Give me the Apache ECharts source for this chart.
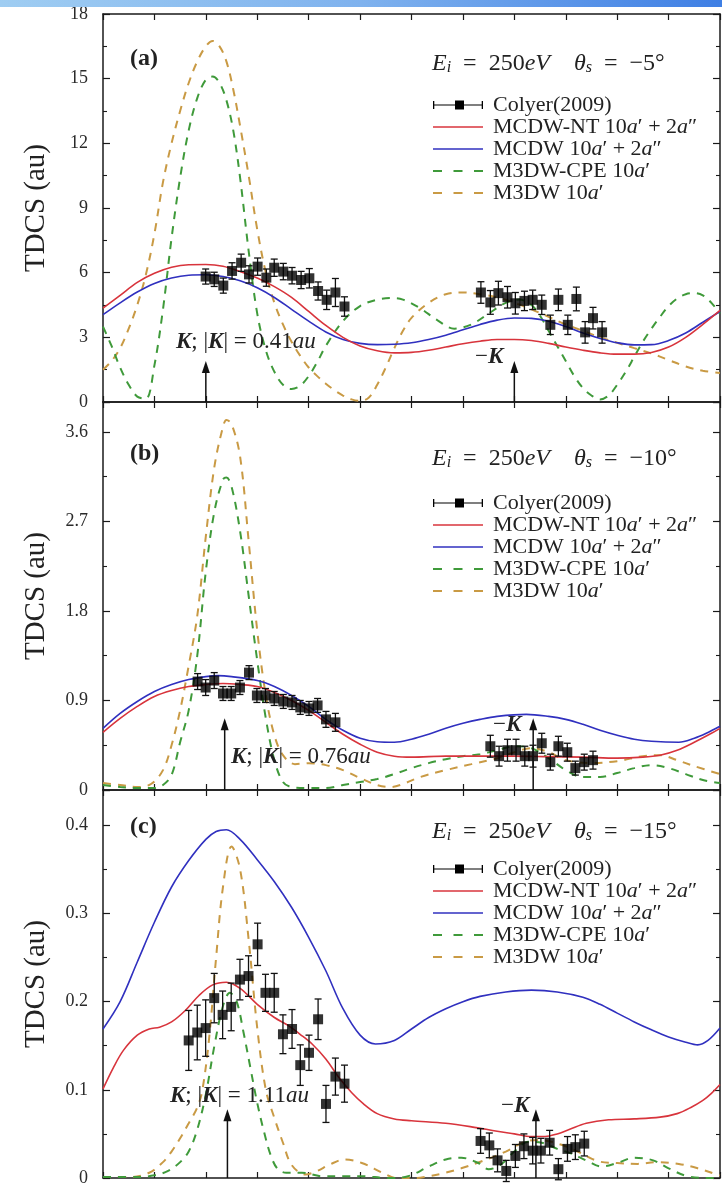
<!DOCTYPE html>
<html>
<head>
<meta charset="utf-8">
<script src="https://cdn.jsdelivr.net/npm/echarts@6/dist/echarts.min.js"></script>
<style>
html,body{margin:0;padding:0;background:#fff;}
#chart{width:722px;height:1187px;}
</style>
</head>
<body>
<div id="chart"></div>
<script>
// Ejected-electron angle (deg) vs TDCS for three scattering angles.
// Theory curves: [angle, TDCS]; measurements: [angle, TDCS, error].

// ---- panel (a): theta_s = -5 deg ----
const RED_A = [[0,4.35],[10,4.95],[20,5.55],[30,5.97],[40,6.25],[50,6.37],[60,6.38],[70,6.3],[80,6.05],[90,5.75],[100,5.35],[110,4.85],[120,4.2],[130,3.55],[140,3.0],[150,2.6],[160,2.38],[170,2.28],[180,2.3],[190,2.4],[200,2.55],[210,2.7],[220,2.82],[230,2.9],[240,2.9],[250,2.85],[260,2.72],[270,2.55],[280,2.4],[290,2.28],[300,2.22],[310,2.22],[320,2.3],[330,2.55],[340,3.0],[350,3.6],[360,4.25]];
const BLUE_A = [[0,4.05],[10,4.6],[20,5.1],[30,5.5],[40,5.75],[50,5.88],[60,5.9],[70,5.82],[80,5.62],[90,5.3],[100,4.85],[110,4.3],[120,3.75],[130,3.25],[140,2.9],[150,2.72],[160,2.66],[170,2.68],[180,2.75],[190,2.9],[200,3.1],[210,3.35],[220,3.6],[230,3.8],[240,3.9],[250,3.88],[260,3.75],[270,3.5],[280,3.2],[290,2.95],[300,2.75],[310,2.65],[320,2.66],[330,2.85],[340,3.2],[350,3.7],[360,4.2]];
const CPE_A = [[0,3.5],[5,2.6],[10,1.6],[15,0.8],[20,0.25],[25,0.15],[30,1.7],[35,4.3],[40,7.6],[45,10.4],[50,12.6],[55,14.1],[60,14.95],[64,15.1],[68,14.8],[72,14.0],[76,12.6],[80,10.4],[85,7.0],[90,4.1],[95,2.4],[100,1.4],[105,0.8],[110,0.6],[115,0.75],[120,1.2],[125,1.85],[130,2.6],[140,3.75],[150,4.45],[160,4.75],[168,4.82],[175,4.75],[185,4.35],[195,3.8],[205,3.4],[215,3.6],[225,4.1],[235,4.6],[243,4.75],[250,4.5],[255,4.0],[260,3.3],[265,2.6],[270,1.9],[275,1.2],[280,0.65],[285,0.3],[290,0.12],[295,0.3],[300,0.8],[305,1.4],[310,2.1],[315,2.8],[320,3.4],[325,3.95],[330,4.45],[335,4.8],[340,5.0],[345,5.05],[350,4.95],[355,4.6],[360,4.1]];
const M3DW_A = [[0,1.5],[5,1.9],[10,2.5],[15,3.4],[20,4.5],[25,5.9],[30,7.8],[35,10.2],[40,12.0],[45,13.5],[50,14.8],[55,15.8],[60,16.5],[64,16.75],[68,16.5],[72,15.8],[76,14.5],[80,12.8],[85,10.5],[90,8.0],[95,6.0],[100,4.6],[105,3.6],[110,2.8],[115,2.15],[120,1.6],[125,1.2],[130,0.85],[135,0.55],[140,0.3],[145,0.12],[150,0.05],[155,0.2],[160,0.8],[165,1.6],[170,2.5],[175,3.3],[180,3.9],[190,4.6],[200,5.0],[210,5.08],[220,5.0],[230,4.85],[240,4.6],[250,4.3],[260,3.95],[270,3.6],[280,3.3],[290,3.0],[300,2.75],[310,2.5],[320,2.25],[330,1.95],[340,1.65],[350,1.45],[360,1.35]];
const EXP_A = [[59.9,5.82,0.35],[64.9,5.69,0.33],[70.2,5.4,0.35],[75.3,6.08,0.38],[80.6,6.46,0.4],[85.2,5.92,0.4],[90.2,6.28,0.4],[95.3,5.77,0.4],[99.9,6.23,0.4],[105.2,6.05,0.38],[110.3,5.86,0.38],[115.6,5.66,0.4],[120.4,5.74,0.45],[125.5,5.15,0.42],[130.5,4.74,0.45],[135.6,5.08,0.65],[140.9,4.43,0.45],
  [220.5,5.08,0.5],[226,4.62,0.55],[230.7,5.05,0.55],[236,4.86,0.5],[240.6,4.58,0.5],[245.9,4.69,0.45],[250.7,4.74,0.45],[256,4.51,0.45],[261,3.58,0.45],[265.7,4.74,0.5],[271.2,3.58,0.45],[276.2,4.78,0.55],[281.3,3.23,0.5],[285.9,3.89,0.5],[291.2,3.23,0.5]];

// ---- panel (b): theta_s = -10 deg ----
const RED_B = [[0,0.58],[10,0.72],[20,0.84],[30,0.94],[40,1.0],[50,1.04],[60,1.06],[70,1.07],[80,1.06],[90,1.04],[100,0.98],[110,0.9],[120,0.8],[130,0.68],[140,0.56],[150,0.46],[160,0.38],[170,0.34],[180,0.33],[200,0.34],[220,0.34],[240,0.34],[260,0.335],[280,0.33],[300,0.32],[315,0.33],[325,0.35],[335,0.4],[345,0.48],[355,0.57],[360,0.62]];
const BLUE_B = [[0,0.62],[10,0.77],[20,0.89],[30,0.99],[40,1.06],[50,1.11],[60,1.14],[67,1.15],[75,1.14],[90,1.1],[100,1.04],[110,0.95],[120,0.84],[130,0.71],[140,0.6],[150,0.52],[160,0.485],[170,0.48],[180,0.51],[190,0.56],[200,0.62],[210,0.67],[220,0.71],[230,0.74],[247,0.76],[260,0.74],[270,0.71],[280,0.66],[290,0.6],[300,0.55],[310,0.51],[320,0.49],[336,0.48],[345,0.52],[352,0.57],[360,0.64]];
const CPE_B = [[0,0.05],[10,0.03],[20,0.02],[30,0.02],[35,0.05],[40,0.15],[45,0.48],[50,0.8],[55,1.35],[60,2.2],[65,2.8],[70,3.12],[72,3.14],[75,3.05],[80,2.6],[85,1.95],[90,1.3],[95,0.72],[100,0.3],[105,0.08],[110,0.03],[120,0.02],[130,0.02],[140,0.05],[150,0.08],[160,0.11],[170,0.16],[180,0.22],[190,0.27],[200,0.31],[210,0.34],[220,0.36],[230,0.4],[240,0.44],[250,0.42],[260,0.32],[270,0.2],[280,0.13],[290,0.13],[300,0.17],[310,0.22],[320,0.25],[330,0.22],[340,0.16],[350,0.1],[360,0.07]];
const M3DW_B = [[0,0.07],[10,0.05],[20,0.03],[28,0.06],[35,0.2],[40,0.45],[45,0.8],[50,1.25],[55,1.75],[60,2.55],[65,3.25],[70,3.65],[72,3.72],[75,3.68],[80,3.35],[85,2.5],[90,1.6],[95,0.95],[100,0.55],[105,0.35],[112,0.26],[120,0.27],[130,0.25],[140,0.2],[150,0.12],[160,0.05],[168,0.03],[175,0.06],[185,0.13],[200,0.2],[215,0.26],[230,0.32],[240,0.38],[250,0.42],[260,0.38],[270,0.3],[285,0.27],[300,0.29],[315,0.34],[325,0.35],[335,0.3],[345,0.24],[360,0.16]];
const EXP_B = [[55.2,1.09,0.08],[59.9,1.03,0.08],[64.9,1.10,0.08],[70,0.97,0.07],[74.8,0.97,0.07],[79.9,1.03,0.07],[85.2,1.18,0.07],[89.8,0.95,0.07],[94.8,0.95,0.07],[99.9,0.92,0.07],[105.2,0.89,0.07],[110.3,0.88,0.07],[115.1,0.83,0.07],[120.2,0.82,0.07],[125.2,0.85,0.07],[130.1,0.71,0.08],[135.6,0.68,0.09],
  [226,0.44,0.11],[231.1,0.34,0.1],[236,0.40,0.11],[241,0.40,0.11],[246.1,0.34,0.1],[250.9,0.34,0.11],[256,0.47,0.1],[261,0.28,0.08],[265.7,0.44,0.1],[270.9,0.38,0.09],[275.6,0.22,0.07],[280.8,0.28,0.08],[285.9,0.30,0.09]];

// ---- panel (c): theta_s = -15 deg ----
const RED_C = [[0,0.101],[6,0.125],[12,0.145],[20,0.162],[27,0.169],[33,0.171],[40,0.177],[48,0.19],[56,0.207],[64,0.219],[72,0.222],[80,0.215],[90,0.197],[100,0.182],[108,0.173],[115,0.163],[122,0.152],[130,0.135],[138,0.113],[145,0.097],[152,0.084],[160,0.073],[170,0.067],[180,0.065],[200,0.062],[215,0.058],[230,0.053],[240,0.05],[250,0.047],[258,0.047],[265,0.05],[272,0.055],[282,0.062],[295,0.066],[310,0.067],[325,0.069],[335,0.073],[343,0.08],[350,0.088],[355,0.096],[360,0.106]];
const BLUE_C = [[0,0.169],[10,0.2],[20,0.245],[30,0.29],[40,0.33],[50,0.36],[60,0.384],[66,0.393],[72,0.395],[80,0.384],[90,0.361],[100,0.336],[110,0.307],[120,0.273],[130,0.235],[140,0.192],[150,0.162],[159,0.152],[170,0.156],[180,0.169],[190,0.182],[200,0.192],[210,0.2],[220,0.206],[235,0.211],[250,0.213],[265,0.211],[280,0.205],[290,0.197],[300,0.187],[310,0.177],[320,0.168],[330,0.16],[340,0.154],[347,0.151],[353,0.156],[360,0.17]];
const CPE_C = [[0,0.001],[20,0.001],[30,0.003],[38,0.008],[45,0.018],[50,0.03],[55,0.055],[60,0.095],[65,0.15],[70,0.195],[74,0.21],[78,0.2],[82,0.165],[86,0.125],[90,0.085],[94,0.052],[98,0.025],[102,0.01],[107,0.006],[116,0.006],[128,0.002],[140,0.002],[151,0.002],[166,0.0],[178,0.002],[190,0.013],[200,0.021],[209,0.023],[219,0.017],[225,0.01],[232,0.015],[240,0.03],[248,0.041],[256,0.04],[265,0.033],[273,0.028],[283,0.019],[291,0.013],[300,0.017],[310,0.023],[321,0.02],[330,0.011],[341,0.002],[354,0.0],[360,0.0]];
const M3DW_C = [[0,0.001],[15,0.001],[27,0.006],[35,0.018],[40,0.03],[45,0.045],[50,0.062],[55,0.08],[58,0.1],[62,0.16],[66,0.25],[70,0.33],[75,0.376],[80,0.35],[85,0.27],[90,0.17],[95,0.1],[100,0.068],[105,0.04],[110,0.015],[118,0.004],[125,0.008],[132,0.015],[141,0.021],[151,0.017],[163,0.006],[171,0.0],[182,0.0],[190,0.002],[200,0.006],[209,0.011],[221,0.019],[235,0.03],[246,0.041],[255,0.043],[267,0.038],[277,0.03],[289,0.019],[300,0.017],[312,0.016],[323,0.018],[336,0.016],[347,0.011],[358,0.004],[360,0.003]];
const EXP_C = [[50,0.156,0.034],[55,0.165,0.031],[59.9,0.17,0.032],[64.9,0.204,0.028],[69.8,0.185,0.027],[74.8,0.194,0.027],[79.9,0.225,0.023],[84.9,0.229,0.023],[90.2,0.265,0.024],[94.8,0.21,0.021],[99.9,0.21,0.022],[105,0.163,0.022],[110.3,0.169,0.022],[115.1,0.128,0.023],[120.2,0.142,0.02],[125.5,0.18,0.023],[130.1,0.084,0.021],[135.6,0.115,0.021],[140.9,0.107,0.021],
  [220.3,0.042,0.014],[225.4,0.037,0.014],[230.2,0.02,0.013],[235.3,0.008,0.012],[240.6,0.025,0.013],[245.6,0.036,0.014],[250.7,0.031,0.015],[255.5,0.031,0.014],[260.6,0.04,0.014],[265.7,0.01,0.012],[271,0.033,0.014],[275.6,0.035,0.014],[280.8,0.039,0.014]];

// axis ranges and tick steps per panel
const Y_MAX = [18, 3.9, 0.44];
const Y_STEP = [3, 0.9, 0.1];
const ANGLE_MAX = 360, ANGLE_STEP = 30;
// momentum-transfer direction K and arrow tip height per panel
const K_ANGLE = [60, 71, 72.6];
const ARROW_TIP = [1.9, 0.72, 0.078];
const K_TEXT = ['0.41', '0.76', '1.11'];
const THETA_S = ['−5°', '−10°', '−15°'];
const PANEL_TAG = ['(a)', '(b)', '(c)'];

const NAMES = {
  exp: 'Colyer(2009)',
  nt: 'MCDW-NT 10a′ + 2a″',
  mc: 'MCDW 10a′ + 2a″',
  cpe: 'M3DW-CPE 10a′',
  m3: 'M3DW 10a′'
};
const PANELS = [
  {red: RED_A, blue: BLUE_A, cpe: CPE_A, m3: M3DW_A, exp: EXP_A},
  {red: RED_B, blue: BLUE_B, cpe: CPE_B, m3: M3DW_B, exp: EXP_B},
  {red: RED_C, blue: BLUE_C, cpe: CPE_C, m3: M3DW_C, exp: EXP_C}
];

const FONT = '"Liberation Serif", "DejaVu Serif", serif';
const INK = '#1a1a1a';
const RED = '#d8343c', BLUE = '#3030bf', GREEN = '#3f9a3a', GOLD = '#c99a44';

// legend glyphs: error-bar marker, solid line, dashed line
const ICON_EXP = 'path://M0,5.4H50V6.6H0Z M0,2H1.3V10H0Z M48.7,2H50V10H48.7Z M22,1.5H31V10.5H22Z';
const ICON_SOLID = 'path://M0,5.2H50V6.8H0Z';
const ICON_DASH = 'path://M0,5.1H9V6.9H0Z M20.5,5.1H29.5V6.9H20.5Z M41,5.1H50V6.9H41Z';

const GRID_TOP = [14, 402, 790];
const GRID_H = [388, 388, 390];

const chart = echarts.init(document.getElementById('chart'), null, {renderer: 'canvas'});

const grids = [], xAxes = [], yAxes = [], series = [], legends = [], graphics = [];

function isStep(v, step) {
  const r = v / step;
  return Math.abs(r - Math.round(r)) < 1e-6;
}

PANELS.forEach((p, i) => {
  grids.push({left: 103, right: 2, top: GRID_TOP[i], height: GRID_H[i], containLabel: false});
  ['bottom', 'top'].forEach(pos => {
    xAxes.push({
      type: 'value', gridIndex: i, position: pos, min: 0, max: ANGLE_MAX, interval: ANGLE_STEP,
      axisLine: {show: true, onZero: false, lineStyle: {color: INK, width: 1.5}},
      axisTick: {show: true, inside: true, length: 6, lineStyle: {color: INK, width: 1.2}},
      axisLabel: {show: false}, splitLine: {show: false}
    });
  });
  ['left', 'right'].forEach(pos => {
    const step = Y_STEP[i];
    yAxes.push({
      type: 'value', gridIndex: i, position: pos, min: 0, max: Y_MAX[i], interval: step,
      axisLine: {show: true, onZero: false, lineStyle: {color: INK, width: 1.5}},
      axisTick: {show: true, inside: true, length: 7, lineStyle: {color: INK, width: 1.2}},
      minorTick: {show: true, splitNumber: 2, length: 4, lineStyle: {color: INK, width: 1.1}},
      splitLine: {show: false}, minorSplitLine: {show: false},
      axisLabel: pos === 'left' ? {
        show: true, margin: 15, color: '#2a2a2a', fontFamily: FONT, fontSize: 18,
        formatter: v => isStep(v, step) ? String(+v.toFixed(2)) : ''
      } : {show: false},
      name: pos === 'left' ? 'TDCS (au)' : '',
      nameLocation: 'middle', nameGap: 52,
      nameTextStyle: {fontFamily: FONT, fontSize: 29, color: '#222'}
    });
  });

  const xi = 2 * i, yi = 2 * i;
  const lineBase = {type: 'line', xAxisIndex: xi, yAxisIndex: yi, symbol: 'none', smooth: 0.35, silent: true, animation: false};
  series.push(Object.assign({}, lineBase, {name: NAMES.m3, data: p.m3, z: 2,
    itemStyle: {color: GOLD}, lineStyle: {color: GOLD, width: 2, type: [8, 7]}}));
  series.push(Object.assign({}, lineBase, {name: NAMES.cpe, data: p.cpe, z: 3,
    itemStyle: {color: GREEN}, lineStyle: {color: GREEN, width: 2, type: [8, 7]}}));
  series.push(Object.assign({}, lineBase, {name: NAMES.mc, data: p.blue, z: 4,
    itemStyle: {color: BLUE}, lineStyle: {color: BLUE, width: 1.6}}));
  series.push(Object.assign({}, lineBase, {name: NAMES.nt, data: p.red, z: 5,
    itemStyle: {color: RED}, lineStyle: {color: RED, width: 1.6}}));

  // error bars of the measurements
  series.push({
    type: 'custom', name: NAMES.exp, xAxisIndex: xi, yAxisIndex: yi, data: p.exp, z: 6,
    itemStyle: {color: '#000'}, silent: true, animation: false,
    encode: {x: 0, y: 1},
    renderItem: (params, api) => {
      const x = api.value(0), y = api.value(1), e = api.value(2);
      const lo = api.coord([x, y - e]), hi = api.coord([x, y + e]);
      const w = 3.5, st = {stroke: '#111', lineWidth: 1.3};
      return {type: 'group', children: [
        {type: 'line', shape: {x1: lo[0], y1: lo[1], x2: hi[0], y2: hi[1]}, style: st},
        {type: 'line', shape: {x1: lo[0] - w, y1: lo[1], x2: lo[0] + w, y2: lo[1]}, style: st},
        {type: 'line', shape: {x1: hi[0] - w, y1: hi[1], x2: hi[0] + w, y2: hi[1]}, style: st}
      ]};
    }
  });
  series.push({
    type: 'scatter', name: NAMES.exp, xAxisIndex: xi, yAxisIndex: yi, z: 7,
    data: p.exp.map(d => [d[0], d[1]]), symbol: 'rect', symbolSize: 10,
    itemStyle: {color: '#000'}, silent: true, animation: false
  });

  // arrows marking K and -K
  series.push({
    type: 'custom', name: 'K arrows', xAxisIndex: xi, yAxisIndex: yi, z: 8,
    data: [[K_ANGLE[i], ARROW_TIP[i]], [K_ANGLE[i] + 180, ARROW_TIP[i]]],
    silent: true, animation: false, encode: {x: 0, y: 1},
    renderItem: (params, api) => {
      const base = api.coord([api.value(0), 0]);
      const tip = api.coord([api.value(0), api.value(1)]);
      return {type: 'group', children: [
        {type: 'line', shape: {x1: base[0], y1: base[1], x2: tip[0], y2: tip[1] + 8}, style: {stroke: '#111', lineWidth: 1.5}},
        {type: 'polygon', shape: {points: [[tip[0], tip[1]], [tip[0] - 4, tip[1] + 12], [tip[0] + 4, tip[1] + 12]]}, style: {fill: '#111'}}
      ]};
    }
  });

  const legendTop = [94, 492, 858][i];
  legends.push({
    show: true, orient: 'vertical', left: 433, top: legendTop, padding: 0,
    itemWidth: 50, itemHeight: 12, itemGap: 0, selectedMode: false, symbolKeepAspect: true,
    data: [
      {name: NAMES.exp, icon: ICON_EXP},
      {name: NAMES.nt, icon: ICON_SOLID},
      {name: NAMES.mc, icon: ICON_SOLID},
      {name: NAMES.cpe, icon: ICON_DASH},
      {name: NAMES.m3, icon: ICON_DASH}
    ],
    formatter: name => name.replace(/a([′″])/g, '{i|a}$1'),
    textStyle: {
      fontFamily: FONT, fontSize: 22, color: '#222', lineHeight: 21, padding: [0, 0, 0, 5],
      rich: {i: {fontFamily: FONT, fontSize: 22, fontStyle: 'italic', color: '#222', lineHeight: 21}}
    }
  });
});

// panel texts
const TITLE_Y = [64, 459, 832];
const K_POS = [[176, 342], [231, 757], [170, 1096]];
const MK_POS = [[475, 357], [493, 725], [501, 1106]];
const SP = '\u2002';
const richMath = {
  i: {fontFamily: FONT, fontSize: 24, fontStyle: 'italic', color: '#222'},
  n: {fontFamily: FONT, fontSize: 24, color: '#222'},
  s: {fontFamily: FONT, fontSize: 16, fontStyle: 'italic', color: '#222', verticalAlign: 'bottom', lineHeight: 12, padding: [11, 0, 0, 0]},
  bi: {fontFamily: FONT, fontSize: 23, fontStyle: 'italic', fontWeight: 'bold', color: '#222'},
  u: {fontFamily: FONT, fontSize: 23, color: '#222'},
  ui: {fontFamily: FONT, fontSize: 23, fontStyle: 'italic', color: '#222'}
};
for (let i = 0; i < 3; i++) {
  graphics.push({
    type: 'text', x: 130, y: TITLE_Y[i] - 5, z: 20,
    style: {text: PANEL_TAG[i], fontFamily: FONT, fontSize: 24, fontWeight: 'bold', fill: '#222', verticalAlign: 'middle'}
  });
  graphics.push({
    type: 'text', x: 432, y: TITLE_Y[i], z: 20,
    style: {
      text: '{i|E}{s|i}{n|' + SP + '=' + SP + '250}{i|eV}{n|' + SP + SP + '}{i|θ}{s|s}{n|' + SP + '=' + SP + THETA_S[i] + '}',
      fontFamily: FONT, fontSize: 24, fill: '#222', verticalAlign: 'middle', rich: richMath
    }
  });
  graphics.push({
    type: 'text', x: K_POS[i][0], y: K_POS[i][1], z: 20,
    style: {
      text: '{bi|K}{u|; |}{bi|K}{u|| = ' + K_TEXT[i] + '}{ui|au}',
      fontFamily: FONT, fontSize: 23, fill: '#222', verticalAlign: 'middle', rich: richMath
    }
  });
  graphics.push({
    type: 'text', x: MK_POS[i][0], y: MK_POS[i][1], z: 20,
    style: {text: '{u|−}{bi|K}', fontFamily: FONT, fontSize: 23, fill: '#222', verticalAlign: 'middle', rich: richMath}
  });
}
// page header strip
graphics.push({
  type: 'rect', x: 0, y: 0, z: 30, shape: {x: 0, y: 0, width: 722, height: 7},
  style: {fill: new echarts.graphic.LinearGradient(0, 0, 1, 0, [
    {offset: 0, color: '#9fcdf2'}, {offset: 0.5, color: '#7fb2ee'}, {offset: 1, color: '#3f7fe4'}
  ])}
});

chart.setOption({
  animation: false,
  backgroundColor: '#fff',
  grid: grids, xAxis: xAxes, yAxis: yAxes,
  legend: legends, series: series, graphic: graphics
});
</script>
</body>
</html>
